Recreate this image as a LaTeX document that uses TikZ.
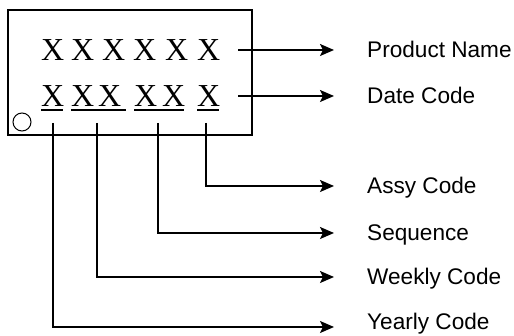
\documentclass[tikz,border=0pt]{standalone}
\usepackage{fontspec}
\setmainfont{Liberation Sans}
\newfontfamily\markfont{Liberation Serif}
\usetikzlibrary{arrows.meta}
\begin{document}
\begin{tikzpicture}[x=1pt,y=-1pt,
  mark char/.style={anchor=base west,inner sep=0pt,font=\markfont\fontsize{32}{32}\selectfont},
  label text/.style={anchor=base west,inner sep=0pt,font=\fontsize{22.6}{22.6}\selectfont},
  chip/.style={draw,line width=2.2pt},
  uline/.style={line width=1.8pt},
  lead/.style={line width=1.8pt,-{Stealth[length=14pt,width=12pt,inset=3pt]}}]
\useasboundingbox (0,0) rectangle (514,336);

% package outline and pin-1 dot
\draw[chip] (8,10) rectangle (252,135);
\node[draw,circle,line width=1pt,minimum size=18pt,inner sep=0pt] (dot) at (22,122) {};

% top marking row
\foreach \i/\x in {1/41,2/71,3/102,4/133,5/165,6/197}
  \node[mark char] (t\i) at (\x,61) {X};
% bottom marking row
\foreach \i/\x in {1/41,2/71,3/98,4/134,5/162,6/197}
  \node[mark char] (b\i) at (\x,107) {X};

% underlined groups
\draw[uline] (41,110) -- (63,110);
\draw[uline] (71,110) -- (126,110);
\draw[uline] (134,110) -- (184,110);
\draw[uline] (197,110) -- (219,110);

% labels
\node[label text] (lpn) at (367,58) {Product Name};
\node[label text] (ldc) at (367,104) {Date Code};
\node[label text] (las) at (367,194) {Assy Code};
\node[label text] (lsq) at (367,241) {Sequence};
\node[label text] (lwk) at (367,285) {Weekly Code};
\node[label text] (lyr) at (367,330) {Yearly Code};

% leader start and end points
\coordinate (spn) at (238,50);  \coordinate (epn) at (334,50);
\coordinate (sdc) at (238,96);  \coordinate (edc) at (334,96);
\coordinate (sas) at (206,123); \coordinate (eas) at (334,186);
\coordinate (ssq) at (158,123); \coordinate (esq) at (334,233);
\coordinate (swk) at (97,123);  \coordinate (ewk) at (334,277);
\coordinate (syr) at (53,123);  \coordinate (eyr) at (334,327);

\draw[lead] (spn) -- (epn);
\draw[lead] (sdc) -- (edc);
\draw[lead] (sas) |- (eas);
\draw[lead] (ssq) |- (esq);
\draw[lead] (swk) |- (ewk);
\draw[lead] (syr) |- (eyr);
\end{tikzpicture}
\end{document}
